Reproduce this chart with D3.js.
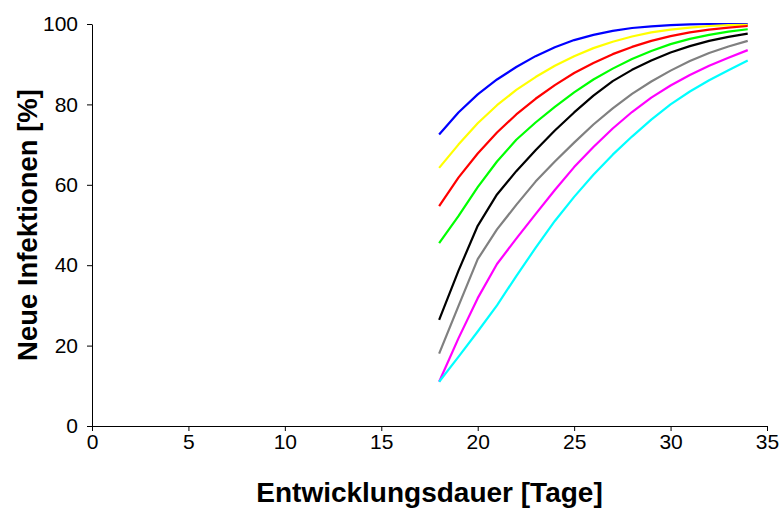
<!DOCTYPE html>
<html>
<head>
<meta charset="utf-8">
<script src="https://cdn.jsdelivr.net/npm/d3@7"></script>
<style>
    body { margin: 0; background: #fff; }
    svg { display: block; font-family: "Liberation Sans", Arial, sans-serif; }
</style>
</head>
<body>
<script>
const DAYS = [18, 19, 20, 21, 22, 23, 24, 25, 26, 27, 28, 29, 30, 31, 32, 33, 34];

const BLUE    = [72.5, 78, 82.5, 86.2, 89.3, 92, 94.2, 96, 97.3, 98.3, 99, 99.4, 99.7, 99.9, 100, 100, 100];
const YELLOW  = [64.2, 70, 75.3, 79.8, 83.6, 86.8, 89.6, 92, 94, 95.6, 96.9, 97.9, 98.6, 99.1, 99.5, 99.7, 99.8];
const RED     = [54.7, 61.8, 67.8, 73, 77.5, 81.4, 84.8, 87.8, 90.3, 92.5, 94.3, 95.8, 97, 97.9, 98.6, 99.1, 99.5];
const GREEN   = [45.5, 52.2, 59.4, 65.8, 71.2, 75.5, 79.4, 83, 86.2, 88.9, 91.3, 93.3, 95, 96.3, 97.3, 98.1, 98.7];
const BLACK   = [26.4, 38.6, 49.8, 57.6, 63.4, 68.6, 73.5, 78, 82.2, 85.8, 88.6, 90.9, 92.9, 94.5, 95.8, 96.8, 97.6];
const GRAY    = [18, 29.8, 41.5, 48.9, 55, 60.8, 65.8, 70.5, 75, 79, 82.6, 85.7, 88.4, 90.8, 92.8, 94.4, 95.8];
const MAGENTA = [11, 21.8, 31.8, 40.3, 46.6, 52.7, 58.7, 64.4, 69.4, 74, 78.1, 81.7, 84.7, 87.3, 89.6, 91.6, 93.5];
const CYAN    = [11, 17.2, 23.5, 30, 37.3, 44.3, 51, 57, 62.5, 67.5, 72, 76.2, 80, 83.2, 86, 88.5, 90.9];

const SERIES = [
    { color: "#0000ff", values: BLUE },
    { color: "#ffff00", values: YELLOW },
    { color: "#ff0000", values: RED },
    { color: "#00ff00", values: GREEN },
    { color: "#000000", values: BLACK },
    { color: "#808080", values: GRAY },
    { color: "#ff00ff", values: MAGENTA },
    { color: "#00ffff", values: CYAN }
];

const X_TICKS = [0, 5, 10, 15, 20, 25, 30, 35];
const Y_TICKS = [0, 20, 40, 60, 80, 100];

const width = 780, height = 508;
const margin = { top: 24, right: 13, bottom: 82, left: 92 };

const svg = d3.select("body").append("svg")
    .attr("width", width)
    .attr("height", height);

const x = d3.scaleLinear([0, 35], [margin.left, width - margin.right]);
const y = d3.scaleLinear([0, 100], [height - margin.bottom, margin.top]);

// axes
const xAxis = svg.append("g")
    .attr("transform", `translate(0, ${y(0)})`)
    .call(d3.axisBottom(x).tickValues(X_TICKS).tickSize(5).tickSizeOuter(0).tickPadding(3));

const yAxis = svg.append("g")
    .attr("transform", `translate(${x(0)}, 0)`)
    .call(d3.axisLeft(y).tickValues(Y_TICKS).tickSize(5).tickSizeOuter(0).tickPadding(9));

[xAxis, yAxis].forEach(g => {
    g.select(".domain").attr("stroke", "#000").attr("stroke-width", 1);
    g.selectAll(".tick line").attr("stroke", "#000");
    g.selectAll("text")
        .attr("fill", "#000")
        .style("font-size", "21px")
        .style("font-family", "'Liberation Sans', Arial, sans-serif");
});

// lines
const line = d3.line()
    .x((d, i) => x(DAYS[i]))
    .y(d => y(d));

svg.append("g")
    .selectAll("path")
    .data(SERIES)
    .join("path")
    .attr("d", d => line(d.values))
    .attr("fill", "none")
    .attr("stroke", d => d.color)
    .attr("stroke-width", 2.2)
    .attr("stroke-linejoin", "round");

// axis titles
svg.append("text")
    .attr("x", (x(0) + x(35)) / 2)
    .attr("y", 502)
    .attr("text-anchor", "middle")
    .style("font-size", "28px")
    .style("font-weight", "bold")
    .text("Entwicklungsdauer [Tage]");

svg.append("text")
    .attr("transform", `translate(37, ${(y(0) + y(100)) / 2}) rotate(-90)`)
    .attr("text-anchor", "middle")
    .style("font-size", "27.5px")
    .style("font-weight", "bold")
    .text("Neue Infektionen [%]");
</script>
</body>
</html>
